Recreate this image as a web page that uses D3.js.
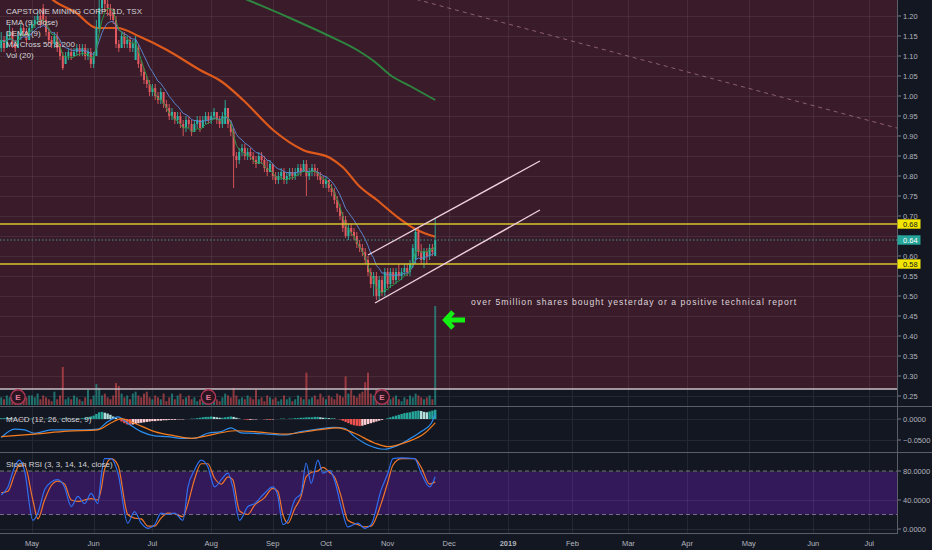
<!DOCTYPE html>
<html><head><meta charset="utf-8">
<script src="https://cdn.jsdelivr.net/npm/d3@7"></script>
<style>
html,body{margin:0;padding:0;background:#131722;overflow:hidden;}
svg{display:block;}
text{font-family:"Liberation Sans",Arial,sans-serif;}
</style></head><body>
<svg id="c" width="932" height="550"></svg>
<script>
// ---------------- DATA ----------------
const firstDate = "2018-04-16";
const lastCalendarDate = "2019-07-31";
const tsxHolidays = ["2018-05-21","2018-07-02","2018-08-06","2018-09-03","2018-10-08"];

const opens = [1.12,1.14,1.12,1.15,1.16,1.13,1.12,1.15,1.17,1.16, 1.14,1.17,1.18,1.19,1.20,1.22,1.19,1.16,1.14,1.13, 1.15,1.13,1.10,1.08,1.10,1.11,1.10,1.11,1.12,1.11, 1.12,1.10,1.11,1.08,1.10,1.17,1.22,1.24,1.23,1.22, 1.21,1.19,1.13,1.12,1.15,1.13,1.14,1.12,1.09,1.12, 1.08,1.06,1.04,1.03,1.01,1.02,1.00,0.99,1.01,0.98, 0.97,0.95,0.96,0.94,0.95,0.93,0.92,0.94,0.93,0.91, 0.93,0.94,0.92,0.94,0.95,0.94,0.95,0.96,0.94,0.93, 0.93,0.97,0.93,0.91,0.85,0.84,0.86,0.87,0.85,0.86, 0.85,0.84,0.83,0.85,0.84,0.82,0.81,0.83,0.80,0.79, 0.80,0.81,0.79,0.80,0.81,0.80,0.81,0.82,0.81,0.83, 0.80,0.81,0.82,0.81,0.80,0.79,0.78,0.79,0.77,0.76, 0.74,0.72,0.70,0.69,0.65,0.67,0.66,0.65,0.63,0.62, 0.61,0.59,0.56,0.53,0.55,0.50,0.54,0.51,0.56,0.53, 0.56,0.54,0.56,0.55,0.56,0.57,0.56,0.58,0.59,0.66, 0.61,0.59,0.61,0.60,0.62,0.60];
const highs = [1.16,1.15,1.16,1.18,1.17,1.14,1.16,1.18,1.18,1.17, 1.18,1.19,1.20,1.21,1.21,1.23,1.20,1.17,1.15,1.16, 1.16,1.14,1.11,1.11,1.12,1.12,1.12,1.13,1.13,1.13, 1.13,1.12,1.12,1.11,1.19,1.24,1.27,1.26,1.25,1.23, 1.22,1.20,1.14,1.16,1.16,1.15,1.15,1.14,1.15,1.13, 1.09,1.07,1.05,1.04,1.03,1.03,1.01,1.02,1.01,0.99, 0.98,0.97,0.96,0.96,0.96,0.94,0.95,0.95,0.94,0.94, 0.95,0.95,0.95,0.96,0.96,0.96,0.97,0.96,0.95,0.96, 0.99,0.97,0.94,0.92,0.86,0.87,0.88,0.88,0.87,0.87, 0.86,0.85,0.86,0.86,0.85,0.84,0.84,0.83,0.81,0.81, 0.82,0.82,0.81,0.82,0.82,0.82,0.83,0.83,0.84,0.84, 0.82,0.83,0.83,0.82,0.81,0.80,0.80,0.79,0.78,0.77, 0.75,0.73,0.71,0.70,0.68,0.68,0.67,0.66,0.64,0.63, 0.62,0.60,0.57,0.56,0.56,0.55,0.55,0.57,0.57,0.57, 0.57,0.57,0.58,0.57,0.58,0.58,0.59,0.63,0.67,0.67, 0.63,0.62,0.62,0.63,0.63,0.695];
const lows = [1.11,1.11,1.12,1.14,1.12,1.11,1.12,1.14,1.15,1.13, 1.14,1.16,1.17,1.18,1.17,1.18,1.15,1.13,1.12,1.12, 1.11,1.09,1.065,1.08,1.09,1.09,1.10,1.10,1.10,1.10, 1.09,1.09,1.07,1.07,1.10,1.16,1.21,1.21,1.20,1.19, 1.18,1.12,1.11,1.12,1.12,1.12,1.11,1.11,1.09,1.07, 1.05,1.03,1.02,1.00,1.00,0.99,0.98,0.98,0.97,0.96, 0.94,0.94,0.93,0.93,0.92,0.90,0.91,0.92,0.90,0.91, 0.92,0.91,0.92,0.93,0.93,0.93,0.94,0.93,0.92,0.92, 0.93,0.92,0.90,0.77,0.82,0.83,0.85,0.84,0.84,0.84, 0.83,0.82,0.83,0.83,0.81,0.80,0.81,0.79,0.78,0.78, 0.79,0.78,0.78,0.79,0.79,0.79,0.80,0.80,0.81,0.75, 0.79,0.80,0.80,0.79,0.78,0.77,0.77,0.76,0.75,0.73, 0.71,0.69,0.66,0.645,0.64,0.65,0.64,0.62,0.61,0.60, 0.58,0.55,0.52,0.50,0.49,0.49,0.50,0.50,0.52,0.52, 0.53,0.53,0.54,0.54,0.55,0.55,0.55,0.57,0.58,0.60, 0.58,0.57,0.58,0.59,0.60,0.60];
const closes = [1.14,1.12,1.15,1.16,1.13,1.12,1.15,1.17,1.16,1.14, 1.17,1.18,1.19,1.20,1.18,1.19,1.16,1.14,1.13,1.15, 1.12,1.10,1.07,1.10,1.11,1.10,1.11,1.12,1.11,1.12, 1.10,1.11,1.08,1.10,1.17,1.22,1.24,1.23,1.22,1.20, 1.19,1.13,1.12,1.15,1.13,1.14,1.12,1.13,1.14,1.08, 1.06,1.04,1.03,1.01,1.02,1.00,0.99,1.01,0.98,0.97, 0.95,0.96,0.94,0.95,0.93,0.92,0.94,0.93,0.91,0.93, 0.94,0.92,0.94,0.95,0.94,0.95,0.96,0.94,0.93,0.95, 0.97,0.93,0.91,0.85,0.84,0.86,0.87,0.85,0.86,0.85, 0.84,0.83,0.85,0.84,0.82,0.81,0.83,0.80,0.79,0.80, 0.81,0.79,0.80,0.81,0.80,0.81,0.82,0.81,0.83,0.80, 0.81,0.82,0.81,0.80,0.79,0.78,0.79,0.77,0.76,0.74, 0.72,0.70,0.67,0.65,0.67,0.66,0.65,0.63,0.62,0.61, 0.59,0.56,0.53,0.55,0.50,0.54,0.51,0.56,0.53,0.56, 0.54,0.56,0.55,0.56,0.57,0.56,0.58,0.62,0.66,0.61, 0.59,0.61,0.60,0.62,0.61,0.64];
// volume, millions of shares
const volumes = [0.4,0.3,0.5,0.4,0.3,0.2,0.5,0.6,0.3,0.4,0.5, 0.5,0.4,0.6,0.3,0.5,0.4,0.3,0.2,0.7,0.3,0.5, 2.0, 0.3,0.4,0.3,0.5,0.4,0.3,0.2,0.4,0.8,0.3,0.5, 1.1,0.9, 0.5,0.6,0.4,0.3,0.5, 1.15,1.0, 0.6,0.4,0.5,0.3,0.6,0.7,0.5,0.4, 0.6,0.7,0.4,0.3,0.5,0.4,0.3,0.6,0.2,0.4,0.6,0.3,0.5,0.6,0.3,0.4,0.5,0.3,0.4,0.2, 0.3,0.4,0.5,0.3,0.4,0.5,0.3,0.2,0.4,0.6,0.5,0.4,0.9,0.5,0.3,0.4,0.3,0.5,0.4,0.3,0.8, 0.3,0.4,0.2,0.5,0.4,0.3,0.4,0.2,0.3,0.5,0.3,0.4,0.2,0.3,0.5,0.4,0.3, 1.7, 0.3,0.4,0.5,0.3,0.6,0.4,0.3,0.5,0.4,0.3,0.6,0.5,0.4, 1.5, 0.6,0.8,0.5,0.4,0.6,0.7, 1.2,1.7, 0.6,0.5,0.8,0.4,0.3,0.5,0.4,0.3,0.4,0.5,0.3,0.2,0.4,0.3,0.5,0.4,0.6,0.5,0.4,0.3,0.4,0.5,0.3, 5.2];
const earningsBars = [6, 74, 136];

// moving-average lines (bar number, price)
const ma50Bars = [12, 18.5, 26.4, 34.2, 41.4, 49.6, 59.2, 71, 78.9, 86.4, 97.1, 107.8, 117.5, 122, 128.1, 134.2, 141.4, 148.5, 155];
const ma50Vals = [1.29, 1.24, 1.21, 1.17, 1.17, 1.148, 1.115, 1.065, 1.035, 0.99, 0.915, 0.865, 0.845, 0.822, 0.773, 0.74, 0.698, 0.665, 0.648];
const ma200Bars = [78, 88.1, 103.1, 116.4, 127.1, 133.5, 138.9, 146, 155];
const ma200Vals = [1.27, 1.24, 1.195, 1.1525, 1.115, 1.085, 1.0525, 1.025, 0.99];

// MACD (12, 26, close, 9)
const macdBars = [0,4.8,8.3,11.9,17.9,23.8,29.8,34.5,38.1,41.7, 45.2,50,54.8,59.5,64.3,69,73.8,78.6,82.1,85.7, 90.5,95.2,101.2,107.1,113.1,119,122.6,126.2,131,136.9, 140.5,145.2,150,153.6,155];
const macdVals = [-0.044,-0.024,-0.026,-0.034,-0.026,-0.026,-0.026,-0.024,-0.006,0.005, -0.010,-0.030,-0.040,-0.042,-0.046,-0.046,-0.034,-0.030,-0.021,-0.033, -0.034,-0.036,-0.038,-0.030,-0.024,-0.020,-0.022,-0.042,-0.062,-0.072, -0.066,-0.050,-0.030,-0.010,0.012];
const signalBars = [0,11.9,23.8,34.5,39.3,42.9,47.6,54.8,61.9,67.9, 76.2,83.3,90.5,101.2,113.1,120.2,126.2,133.3,138.1,145.2, 151.2,155];
const signalVals = [-0.042,-0.036,-0.029,-0.026,-0.009,0.001,-0.010,-0.030,-0.040,-0.046, -0.036,-0.028,-0.030,-0.036,-0.026,-0.021,-0.034,-0.057,-0.066,-0.054, -0.034,-0.009];
// histogram per bar, thousandths
const histMilli = [2,2,3,2,1,1,0,-1,-1,0,1, 1,0,-1,-1,0,1,1,0,-1,0,1,1, 2,1,0,0,1,1,2,3,4,6,8, 12,16,17,15,13,10,6,3, -2,-6,-10,-13,-14,-13,-12,-10,-9,-8,-7,-6,-5, -5,-4,-4,-3,-3,-2,-2,-2,-1,-1,-1,0,0,1, 1,2,3,4,5,5,6,5,4,3,3,4,5,6,5,3, 1,0,-1,-2,-2,-1,-1,0,0,-1,-1,-2,-1,0,0,1,1,0,1,1,2, 2,3,3,4,4,4,5,5,4,3,3,2,2,1,0,-1, -4,-7,-10,-13,-15,-16,-17,-16,-14,-12,-10,-8,-6,-4,-2, 0,2,4,6,8,10,12,14,15,16,18,19,20,19,17,16,18,20,22];

// Stoch RSI (3, 3, 14, 14, close)
const stochBars = [0,2.4,4.8,6.5,8.3,11.3,13.1,15.5,17.9,20.2, 22.6,25,27.4,29.8,32.1,34.5,35.7,36.9,39.3,41.7, 45.2,47.6,50,52.4,54.8,57.1,59.5,61.9,64.9,66.7, 69,71.4,73.8,76.2,78.6,81,82.7,85.1,88.1,90.5, 94,97,98.8,100.6,102.4,104.8,107.1,108.9,110.7,113.1, 114.9,117.3,119,121.4,123.8,127.4,129.8,132.1,135.7,138.1, 139.9,142.9,147.6,150,153,155];
const stochK = [47,58,86,95,81,12,22,54,65,68, 58,31,45,35,49,35,72,97,97,77, 8,24,8,1,6,22,20,22,12,58, 81,95,86,58,68,77,58,12,31,35, 49,58,45,6,12,40,49,91,63,95, 77,81,68,31,3,8,1,6,54,77, 97,98,97,77,58,72];
const stochD = [50,52,75,88,88,40,14,40,60,66, 62,40,38,40,42,40,55,82,97,88, 20,15,14,4,4,15,22,21,17,35, 68,90,90,70,62,72,68,25,20,33, 43,56,52,20,8,28,45,72,78,80, 85,78,72,45,12,6,3,4,35,65, 88,97,97,85,62,65];

// axes
const priceTicks = [0.25,0.30,0.35,0.40,0.45,0.50,0.55,0.60,0.65,0.70,0.75,0.80,0.85,0.90,0.95,1.00,1.05,1.10,1.15,1.20];
const macdTicks = [0, -0.05];
const stochTicks = [0, 40, 80];
const tickMonths = ["2018-05","2018-06","2018-07","2018-08","2018-09","2018-10","2018-11","2018-12","2019-01","2019-02","2019-03","2019-04","2019-05","2019-06","2019-07"];
const tickLabels = ["May","Jun","Jul","Aug","Sep","Oct","Nov","Dec","2019","Feb","Mar","Apr","May","Jun","Jul"];

// drawings (bar number, price)
const levelLines = [0.68, 0.58];
const lastPrice = 0.64;
const backgroundBottomPrice = 0.2675;
const channelUpper = [[131, 0.6025], [192.4, 0.8375]];
const channelLower = [[133.5, 0.4825], [192.4, 0.715]];
const trendLine = [[140, 1.257], [330, 0.901]];
const noteText = "over 5million shares bought yesterday or a positive technical report";
const noteAnchor = [167.8, 0.485];
const arrowTip = [157.8, 0.44];
const legendLines = ["CAPSTONE MINING CORP., 1D, TSX","EMA (9, close)","DEMA (9)","MA Cross 50 & 200","Vol (20)"];

// ---------------- LAYOUT ----------------
const PLOT_R = 897, MAIN_B = 406, MACD_T = 407, MACD_B = 452, ST_T = 453, ST_B = 533;
const C = {
  bg:"#131722", maroon:"#3a1b29", gridM:"rgba(255,255,255,0.075)", gridD:"#242834",
  up:"#2ab5a4", down:"#e25a5f", volUp:"rgba(38,166,154,0.62)", volDown:"rgba(214,78,80,0.62)",
  text:"#d4d4d8", axis:"#b2b5be", sep:"#5a5e69"
};

function buildCalendar(){
  const out=[], hol=new Set(tsxHolidays);
  let d=new Date(firstDate+"T12:00:00Z"); const end=new Date(lastCalendarDate+"T12:00:00Z");
  while(d<=end){const wd=d.getUTCDay(), s=d.toISOString().slice(0,10);
    if(wd!==0&&wd!==6&&!hol.has(s)) out.push(s);
    d=new Date(d.getTime()+86400000);}
  return out;
}
const calendar = buildCalendar();

const x = d3.scaleLinear().domain([0, 320]).range([1.2, 1.2 + 2.8*320]);
const py = d3.scaleLinear().domain([0.25, 1.20]).range([396, 16]);
const vy = d3.scaleLinear().domain([0, 5.2]).range([MAIN_B - 1, 306]);
const my = d3.scaleLinear().domain([-0.05, 0]).range([440, 419]);
const sy = d3.scaleLinear().domain([0, 80]).range([529, 471]);

function ema(arr,n){const k=2/(n+1);let p=arr[0];return arr.map((v,i)=>(p=i===0?v:v*k+p*(1-k)));}
const ema9 = ema(closes,9);
const emaEma = ema(ema9,9);
const dema9 = ema9.map((v,i)=>2*v-emaEma[i]);

const svg = d3.select("#c");
svg.append("rect").attr("width",932).attr("height",550).attr("fill",C.bg);
const defs = svg.append("defs");
[["clipMain",0,MAIN_B],["clipMacd",MACD_T,MACD_B],["clipSt",ST_T,ST_B]].forEach(([id,t,b])=>{
  defs.append("clipPath").attr("id",id).append("rect").attr("x",0).attr("y",t).attr("width",PLOT_R).attr("height",b-t);
});

const monthIdx = tickMonths.map(m=>calendar.findIndex(s=>s.startsWith(m)));

// ---------- MAIN PANE ----------
const main = svg.append("g").attr("clip-path","url(#clipMain)");
main.append("rect").attr("x",0).attr("y",0).attr("width",PLOT_R).attr("height",py(backgroundBottomPrice)).attr("fill",C.maroon);
main.selectAll(".hg").data(priceTicks).enter().append("line")
  .attr("x1",0).attr("x2",PLOT_R).attr("y1",d=>Math.round(py(d))+0.5).attr("y2",d=>Math.round(py(d))+0.5)
  .attr("stroke",d=>py(d)<py(backgroundBottomPrice)?C.gridM:C.gridD).attr("stroke-width",1);
main.selectAll(".vg").data(monthIdx).enter().append("line")
  .attr("x1",d=>Math.round(x(d))+0.5).attr("x2",d=>Math.round(x(d))+0.5).attr("y1",0).attr("y2",py(backgroundBottomPrice))
  .attr("stroke",C.gridM);
main.selectAll(".vg2").data(monthIdx).enter().append("line")
  .attr("x1",d=>Math.round(x(d))+0.5).attr("x2",d=>Math.round(x(d))+0.5).attr("y1",py(backgroundBottomPrice)).attr("y2",MAIN_B)
  .attr("stroke",C.gridD);

// volume
main.selectAll(".vol").data(volumes).enter().append("rect")
  .attr("x",(d,i)=>x(i)-1).attr("width",2)
  .attr("y",d=>vy(d)).attr("height",d=>vy(0)-vy(d))
  .attr("fill",(d,i)=>closes[i]>=opens[i]?C.volUp:C.volDown);
main.append("line").attr("x1",0).attr("x2",PLOT_R).attr("y1",py(backgroundBottomPrice)).attr("y2",py(backgroundBottomPrice))
  .attr("stroke","#cbbfc4").attr("stroke-width",1.6);

// earnings markers
const eg = main.selectAll(".earn").data(earningsBars).enter().append("g")
  .attr("transform",d=>`translate(${x(d)},397)`);
eg.append("circle").attr("r",7.2).attr("fill","#2a1520").attr("stroke","#b03656").attr("stroke-width",1.4);
eg.append("text").attr("text-anchor","middle").attr("y",3).attr("font-size",8).attr("font-weight","bold").attr("fill","#e57a98").text("E");

// MA lines
const lineP = d3.line().x(d=>x(d[0])).y(d=>py(d[1])).curve(d3.curveMonotoneX);
main.append("path").attr("d",lineP(ma200Bars.map((b,i)=>[b,ma200Vals[i]]))).attr("fill","none").attr("stroke","#2e8540").attr("stroke-width",2);
main.append("path").attr("d",lineP(ma50Bars.map((b,i)=>[b,ma50Vals[i]]))).attr("fill","none").attr("stroke","#de5a1c").attr("stroke-width",2.2);

// candles
const cg = main.selectAll(".cd").data(closes).enter().append("g");
cg.append("line").attr("x1",(d,i)=>x(i)).attr("x2",(d,i)=>x(i))
  .attr("y1",(d,i)=>py(highs[i])).attr("y2",(d,i)=>py(lows[i]))
  .attr("stroke",(d,i)=>d>=opens[i]?C.up:C.down).attr("stroke-width",0.9);
cg.append("rect").attr("x",(d,i)=>x(i)-1).attr("width",2)
  .attr("y",(d,i)=>py(Math.max(d,opens[i])))
  .attr("height",(d,i)=>Math.max(1,Math.abs(py(d)-py(opens[i]))))
  .attr("fill",(d,i)=>d>=opens[i]?C.up:C.down);

// EMA / DEMA
const lineI = d3.line().x((d,i)=>x(i)).y(d=>py(d));
main.append("path").attr("d",lineI(ema9)).attr("fill","none").attr("stroke","#5b83cc").attr("stroke-width",1);
main.append("path").attr("d",lineI(dema9)).attr("fill","none").attr("stroke","#2f9444").attr("stroke-width",1);

// horizontal levels
main.selectAll(".lvl").data(levelLines).enter().append("line")
  .attr("x1",0).attr("x2",PLOT_R).attr("y1",d=>py(d)).attr("y2",d=>py(d))
  .attr("stroke","#d9c52c").attr("stroke-width",1.4);
main.append("line").attr("x1",0).attr("x2",PLOT_R).attr("y1",py(lastPrice)).attr("y2",py(lastPrice))
  .attr("stroke","#3f968c").attr("stroke-width",1).attr("stroke-dasharray","1.5,2");

// channel & trend lines
const seg = d3.line().x(d=>x(d[0])).y(d=>py(d[1]));
[channelUpper, channelLower].forEach(l=>main.append("path").attr("d",seg(l)).attr("stroke","#efcfdc").attr("stroke-width",1.4).attr("fill","none"));
main.append("path").attr("d",seg(trendLine)).attr("stroke","rgba(205,150,175,0.55)").attr("stroke-width",1).attr("stroke-dasharray","4,4").attr("fill","none");

// note & arrow
main.append("text").attr("x",x(noteAnchor[0])).attr("y",py(noteAnchor[1])+3)
  .attr("font-family","'DejaVu Sans',Verdana,sans-serif").attr("font-size",8.6).attr("fill","#ddd6da")
  .attr("textLength",325).attr("lengthAdjust","spacing").text(noteText);
const ax = x(arrowTip[0]), ay = py(arrowTip[1]);
main.append("path")
  .attr("d",`M${ax+10},${ay-8} L${ax+2.5},${ay} L${ax+10},${ay+8} M${ax+3},${ay} L${ax+22},${ay}`)
  .attr("fill","none").attr("stroke","#14f014").attr("stroke-width",5).attr("stroke-linejoin","miter").attr("stroke-linecap","butt");

// legend
main.selectAll(".leg").data(legendLines).enter().append("text")
  .attr("x",6).attr("y",(d,i)=>14+i*11).attr("font-size",8).attr("fill",C.text).text(d=>d);

// ---------- MACD PANE ----------
const mg = svg.append("g").attr("clip-path","url(#clipMacd)");
mg.selectAll(".mhg").data(macdTicks).enter().append("line").attr("x1",0).attr("x2",PLOT_R)
  .attr("y1",d=>Math.round(my(d))+0.5).attr("y2",d=>Math.round(my(d))+0.5).attr("stroke",C.gridD);
mg.selectAll(".mvg").data(monthIdx).enter().append("line").attr("x1",d=>Math.round(x(d))+0.5).attr("x2",d=>Math.round(x(d))+0.5)
  .attr("y1",MACD_T).attr("y2",MACD_B).attr("stroke",C.gridD);
mg.selectAll(".hist").data(histMilli).enter().append("rect")
  .attr("x",(d,i)=>x(i)-1.2).attr("width",2.4)
  .attr("y",d=>Math.min(my(0),my(d/1000))).attr("height",d=>Math.abs(my(d/1000)-my(0)))
  .attr("fill",(d,i)=>{const p=i>0?histMilli[i-1]:d; return d>=0?(d>=p?"#26a69a":"#b2dfdb"):(d<p?"#ef5350":"#ffcdd2");});
const lineM = d3.line().x(d=>x(d[0])).y(d=>my(d[1])).curve(d3.curveMonotoneX);
mg.append("path").attr("d",lineM(macdBars.map((b,i)=>[b,macdVals[i]]))).attr("fill","none").attr("stroke","#2d8ff0").attr("stroke-width",1.2);
mg.append("path").attr("d",lineM(signalBars.map((b,i)=>[b,signalVals[i]]))).attr("fill","none").attr("stroke","#f57c1f").attr("stroke-width",1.2);
mg.append("text").attr("x",6).attr("y",422).attr("font-size",8).attr("fill",C.text).text("MACD (12, 26, close, 9)");

// ---------- STOCH RSI PANE ----------
const sg = svg.append("g").attr("clip-path","url(#clipSt)");
sg.append("rect").attr("x",0).attr("width",PLOT_R).attr("y",sy(80)).attr("height",sy(20)-sy(80)).attr("fill","#33185a");
sg.selectAll(".shg").data(stochTicks).enter().append("line").attr("x1",0).attr("x2",PLOT_R)
  .attr("y1",d=>Math.round(sy(d))+0.5).attr("y2",d=>Math.round(sy(d))+0.5).attr("stroke",d=>d===40?"rgba(255,255,255,0.07)":C.gridD);
sg.selectAll(".svg").data(monthIdx).enter().append("line").attr("x1",d=>Math.round(x(d))+0.5).attr("x2",d=>Math.round(x(d))+0.5)
  .attr("y1",ST_T).attr("y2",ST_B).attr("stroke","rgba(255,255,255,0.07)");
[80,20].forEach(v=>sg.append("line").attr("x1",0).attr("x2",PLOT_R).attr("y1",sy(v)).attr("y2",sy(v))
  .attr("stroke","rgba(190,180,200,0.55)").attr("stroke-dasharray","4,3"));
const lineS = d3.line().x(d=>x(d[0])).y(d=>sy(d[1])).curve(d3.curveMonotoneX);
sg.append("path").attr("d",lineS(stochBars.map((b,i)=>[b,stochD[i]]))).attr("fill","none").attr("stroke","#f0752a").attr("stroke-width",1.2);
sg.append("path").attr("d",lineS(stochBars.map((b,i)=>[b,stochK[i]]))).attr("fill","none").attr("stroke","#2f6ff0").attr("stroke-width",1.2);
sg.append("text").attr("x",6).attr("y",467).attr("font-size",8).attr("fill",C.text).text("Stoch RSI (3, 3, 14, 14, close)");

// ---------- SEPARATORS & AXES ----------
[MAIN_B+0.5, MACD_B+0.5].forEach(y=>svg.append("line").attr("x1",0).attr("x2",932).attr("y1",y).attr("y2",y).attr("stroke",C.sep));
svg.append("line").attr("x1",0).attr("x2",PLOT_R).attr("y1",ST_B+0.5).attr("y2",ST_B+0.5).attr("stroke",C.sep);
svg.append("line").attr("x1",PLOT_R+0.5).attr("x2",PLOT_R+0.5).attr("y1",0).attr("y2",ST_B+1).attr("stroke",C.sep);

const tagValues = levelLines.concat([lastPrice]);
const axisG = svg.append("g").attr("font-size",7.5).attr("fill",C.axis);
function axLabels(ticks, scale, fmt, avoid){
  ticks.forEach(t=>{const y=scale(t);
    axisG.append("line").attr("x1",PLOT_R+1).attr("x2",PLOT_R+4).attr("y1",y).attr("y2",y).attr("stroke","#787b86");
    // like the reference, a tick label sitting under a price tag is hidden
    if(avoid && avoid.some(v=>Math.abs(scale(v)-y)<7.5)) return;
    axisG.append("text").attr("x",903).attr("y",y+2.7).text(fmt(t));});
}
axLabels(priceTicks, py, d3.format(".2f"), tagValues);
axLabels(macdTicks, my, d3.format(".4f"));
axLabels(stochTicks, sy, d3.format(".4f"));

function tag(v, bg, fg){
  const y = py(v);
  svg.append("rect").attr("x",PLOT_R+0.5).attr("y",y-4.7).attr("width",23).attr("height",9.4).attr("fill",bg);
  svg.append("text").attr("x",903).attr("y",y+2.7).attr("font-size",7.5).attr("fill",fg).text(d3.format(".2f")(v));
}
levelLines.forEach(v=>tag(v,"#f2e600","#131722"));
tag(lastPrice,"#26a69a","#ffffff");

// time axis
svg.selectAll(".tl").data(monthIdx).enter().append("text")
  .attr("x",d=>x(d)).attr("y",546).attr("text-anchor","middle").attr("font-size",7.5)
  .attr("font-weight",(d,i)=>tickLabels[i]==="2019"?"bold":"normal")
  .attr("fill",C.axis).text((d,i)=>tickLabels[i]);
</script>
</body></html>
